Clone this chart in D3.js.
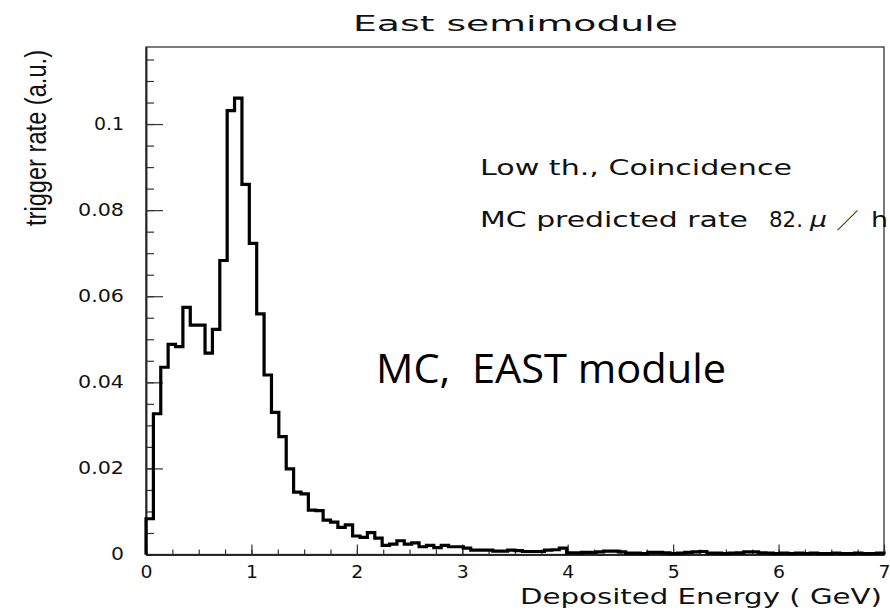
<!DOCTYPE html>
<html><head><meta charset="utf-8">
<script src="https://cdn.jsdelivr.net/npm/d3@7"></script>
<style>body{margin:0;background:#fff}svg{display:block}</style>
</head><body><svg id="c" width="890" height="610"></svg>
<script>
// ---- data ----
const xDomain = [0, 7];
const binCount = 100;
const rates = [
  0.0083,0.0327,0.0435,0.0488,0.0483,0.0574,0.0533,0.0533,0.0468,0.0523,
  0.0683,0.1031,0.1060,0.0860,0.0723,0.0559,0.0417,0.0330,0.0274,0.0199,
  0.0145,0.0141,0.0103,0.0102,0.0080,0.0075,0.0063,0.0069,0.0043,0.0040,
  0.0051,0.0038,0.0021,0.0024,0.0032,0.0024,0.0027,0.0018,0.0021,0.0016,
  0.0021,0.0018,0.0018,0.0015,0.0010,0.0010,0.0010,0.0008,0.0008,0.0010,
  0.0009,0.0007,0.0007,0.0007,0.0010,0.0011,0.0015,0.0004,0.0004,0.0005,
  0.0005,0.0006,0.0008,0.0008,0.0006,0.0003,0.0003,0.0002,0.0005,0.0005,
  0.0004,0.0002,0.0003,0.0005,0.0006,0.0007,0.0003,0.0003,0.0002,0.0003,
  0.0004,0.0006,0.0006,0.0004,0.0003,0.0002,0.0003,0.0002,0.0003,0.0002,
  0.0003,0.0002,0.0002,0.0003,0.0002,0.0002,0.0003,0.0002,0.0002,0.0003
];
const xMajorTicks = [0,1,2,3,4,5,6,7];
const xTickLabels = ["0","1","2","3","4","5","6","7"];
const yMajorTicks = [0,0.02,0.04,0.06,0.08,0.1];
const yTickLabels = ["0","0.02","0.04","0.06","0.08","0.1"];
const yTop = 0.1179;
const titleText = "East semimodule";
const xTitle = "Deposited Energy ( GeV)";
const yTitle = "trigger rate (a.u.)";
const note1 = "Low th., Coincidence";
const note2a = "MC predicted rate", note2b = "82.", note2c = "\u03bc", note2d = "/", note2e = "h";
const bigNote = "MC,\u00a0 EAST module";

// ---- chart ----
const svg = d3.select("#c");
const L = 146, R = 884, T = 47, B = 554.5;
const x = d3.scaleLinear().domain(xDomain).range([L, R]);
const y = d3.scaleLinear().domain([0, yTop]).range([B, T]);
const paw = "'DejaVu Sans', sans-serif";

// frame
svg.append("rect").attr("x", L).attr("y", T).attr("width", R - L).attr("height", B - T)
  .attr("fill", "none").attr("stroke", "#333").attr("stroke-width", 1.3);

// y axis minor + major
svg.append("g").attr("transform", `translate(${L},0)`)
  .call(d3.axisLeft(y).tickValues(d3.range(0, 0.1151, 0.005)).tickSize(-8).tickSizeOuter(0).tickFormat(""));
svg.append("g").attr("class", "yax").attr("transform", `translate(${L},0)`)
  .call(d3.axisLeft(y).tickValues(yMajorTicks).tickSize(-17).tickSizeOuter(0).tickPadding(22)
    .tickFormat((d, i) => yTickLabels[i]));
// x axis minor + major
svg.append("g").attr("transform", `translate(0,${B})`)
  .call(d3.axisBottom(x).tickValues(d3.range(0, 7.001, 0.25)).tickSize(-5).tickSizeOuter(0).tickFormat(""));
svg.append("g").attr("class", "xax").attr("transform", `translate(0,${B})`)
  .call(d3.axisBottom(x).tickValues(xMajorTicks).tickSize(-10).tickSizeOuter(0).tickPadding(11)
    .tickFormat((d, i) => xTickLabels[i]));

svg.selectAll(".domain").attr("stroke", "#222").attr("stroke-width", 1.5);
svg.selectAll(".tick line").attr("stroke", "#333").attr("stroke-width", 1.2);
svg.selectAll(".tick text").attr("font-family", paw).attr("font-size", 17)
  .attr("fill", "#111");
svg.selectAll(".yax .tick text").each(function (d, i) {
  const s = yTickLabels[i];
  const w = s.length === 1 ? 13 : (s.length === 3 ? 30 : 46);
  d3.select(this).attr("textLength", w).attr("lengthAdjust", "spacingAndGlyphs");
});
svg.selectAll(".xax .tick text").attr("textLength", 12).attr("lengthAdjust", "spacingAndGlyphs");

// histogram
const bw = (xDomain[1] - xDomain[0]) / binCount;
const pts = [[xDomain[0], 0]];
rates.forEach((v, i) => { pts.push([xDomain[0] + i * bw, v]); pts.push([xDomain[0] + (i + 1) * bw, v]); });
pts.push([xDomain[1], 0]);
svg.append("path").datum(pts)
  .attr("d", d3.line().x(d => x(d[0])).y(d => y(d[1])))
  .attr("fill", "none").attr("stroke", "#000").attr("stroke-width", 3.2)
  .attr("stroke-linejoin", "miter");

// texts
function txt(s, xx, yy, len, size, fam, extra) {
  const t = svg.append("text").attr("x", xx).attr("y", yy).text(s)
    .attr("font-family", fam).attr("font-size", size).attr("fill", "#111");
  if (len) t.attr("textLength", len).attr("lengthAdjust", "spacingAndGlyphs");
  if (extra) extra(t);
  return t;
}
txt(titleText, 353, 31, 325, 21, paw);
txt(note1, 480, 175, 312, 21, paw);
txt(note2a, 480, 227, 268, 21, paw);
txt(note2b, 769, 227, 34, 21, paw);
txt(note2c, 810, 227, 17, 21, paw, t => t.attr("font-style", "italic"));
txt(note2d, 0, 0, null, 24, paw, t => t.attr("font-weight", 300)
  .attr("transform", "translate(838,228) skewX(-35)"));
txt(note2e, 871, 227, 17, 21, paw);
txt(xTitle, 520, 604, 362, 21, paw);
txt(bigNote, 376, 383, 350, 40, "'Open Sans', Lato, sans-serif", t => t.attr("fill", "#000"));
svg.append("text").text(yTitle)
  .attr("transform", "translate(46,138) rotate(-90)")
  .attr("text-anchor", "middle")
  .attr("font-family", "'Liberation Sans Narrow','Liberation Sans',sans-serif")
  .attr("font-size", 30).attr("fill", "#111")
  .attr("textLength", 176).attr("lengthAdjust", "spacingAndGlyphs");
</script></body></html>
